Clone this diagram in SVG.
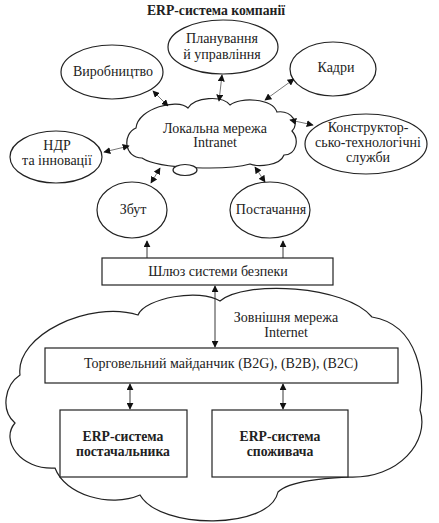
<svg xmlns="http://www.w3.org/2000/svg" width="439" height="523" viewBox="0 0 439 523">
<defs>
<style>
text{font-family:"Liberation Serif","DejaVu Serif",serif;font-size:14px;fill:#222;text-anchor:middle}
.b{font-weight:bold;font-size:13.7px}
.sh{fill:#fff;stroke:#222;stroke-width:1.2}
.c{fill:none;stroke:#666;stroke-width:0.9}
.ck{fill:none;stroke:#222;stroke-width:0.9}
</style>
<marker id="ah" viewBox="0 0 10 10" refX="9" refY="5" markerWidth="7" markerHeight="7" markerUnits="userSpaceOnUse" orient="auto-start-reverse">
<path d="M0,0 L10,5 L0,10 z" fill="#111"/>
</marker>
</defs>
<rect width="439" height="523" fill="#fff"/>
<text class="b" x="216" y="15">ERP-система компанії</text>

<g id="internet">
<path class="sh" d="M20,375 C15,335 90,300 138,315 C145,298 200,288 220,301 C245,280 345,285 372,317 C420,325 425,380 420,410 C430,440 400,480 347,477 C330,478 290,480 278,492 C270,530 160,530 140,495 C110,508 65,495 55,468 C20,470 0,440 15,423 C0,410 5,385 20,375 Z"/>
<text x="286" y="322">Зовнішня мережа</text>
<text x="286" y="337">Internet</text>
</g>

<g id="intranet">
<path class="sh" d="M142,158 C124,158 122,134 136,128 C138,108 178,98 188,108 C195,97 222,95 230,105 C240,97 272,98 277,112 C292,110 300,124 292,131 C300,140 296,155 284,155 C280,166 258,167 250,164 C230,170 160,170 142,158 Z"/>
<ellipse class="sh" cx="185" cy="170" rx="12" ry="5.5"/>
<text x="215" y="133">Локальна мережа</text>
<text x="215" y="147">Intranet</text>
</g>

<g id="planning">
<ellipse class="sh" cx="223" cy="47" rx="55" ry="27"/>
<text x="222" y="43">Планування</text>
<text x="222" y="59">й управління</text>
</g>
<g id="vyrobnytstvo">
<ellipse class="sh" cx="112" cy="72" rx="51" ry="27"/>
<text x="113" y="76">Виробництво</text>
</g>
<g id="kadry">
<ellipse class="sh" cx="333" cy="69" rx="43" ry="27"/>
<text x="336" y="72">Кадри</text>
</g>
<g id="ndr">
<ellipse class="sh" cx="56" cy="157" rx="46" ry="26"/>
<text x="57" y="150">НДР</text>
<text x="57" y="165">та інновації</text>
</g>
<g id="konstr">
<ellipse class="sh" cx="366" cy="144" rx="61" ry="30"/>
<text x="368" y="132">Конструктор-</text>
<text x="368" y="147">сько-технологічні</text>
<text x="368" y="162">служби</text>
</g>
<g id="zbut">
<ellipse class="sh" cx="132" cy="210" rx="35" ry="28"/>
<text x="133" y="214">Збут</text>
</g>
<g id="postach">
<ellipse class="sh" cx="270" cy="210" rx="40" ry="28"/>
<text x="271" y="214">Постачання</text>
</g>

<g id="gateway">
<rect class="sh" x="102" y="258" width="231" height="27"/>
<text x="218" y="276">Шлюз системи безпеки</text>
</g>
<g id="trade">
<rect class="sh" x="45" y="348" width="353" height="35"/>
<text x="221" y="368">Торговельний майданчик (B2G), (B2B), (B2C)</text>
</g>
<g id="erp-supplier">
<rect class="sh" x="60" y="410" width="127" height="67"/>
<text class="b" x="123" y="441">ERP-система</text>
<text class="b" x="123" y="456">постачальника</text>
</g>
<g id="erp-consumer">
<rect class="sh" x="212" y="410" width="136" height="67"/>
<text class="b" x="280" y="441">ERP-система</text>
<text class="b" x="280" y="456">споживача</text>
</g>

<g id="connectors">
<line class="c" x1="153" y1="91" x2="168" y2="106" marker-start="url(#ah)" marker-end="url(#ah)"/>
<line class="c" x1="222" y1="75" x2="219" y2="101" marker-start="url(#ah)" marker-end="url(#ah)"/>
<line class="c" x1="294" y1="79" x2="265" y2="100" marker-start="url(#ah)" marker-end="url(#ah)"/>
<line class="c" x1="290" y1="120" x2="313" y2="125" marker-start="url(#ah)" marker-end="url(#ah)"/>
<line class="c" x1="104" y1="152" x2="129" y2="146" marker-start="url(#ah)" marker-end="url(#ah)"/>
<line class="c" x1="160" y1="168" x2="151" y2="183" marker-start="url(#ah)" marker-end="url(#ah)"/>
<line class="c" x1="255" y1="167" x2="265" y2="182" marker-start="url(#ah)" marker-end="url(#ah)"/>
<line class="ck" x1="147" y1="258" x2="147" y2="241" marker-end="url(#ah)"/>
<line class="ck" x1="283" y1="258" x2="283" y2="241" marker-end="url(#ah)"/>
<line class="ck" x1="215" y1="286" x2="215" y2="347" marker-start="url(#ah)" marker-end="url(#ah)"/>
<line class="ck" x1="130" y1="384" x2="130" y2="409" marker-start="url(#ah)" marker-end="url(#ah)"/>
<line class="ck" x1="283" y1="384" x2="283" y2="409" marker-start="url(#ah)" marker-end="url(#ah)"/>
</g>
</svg>
